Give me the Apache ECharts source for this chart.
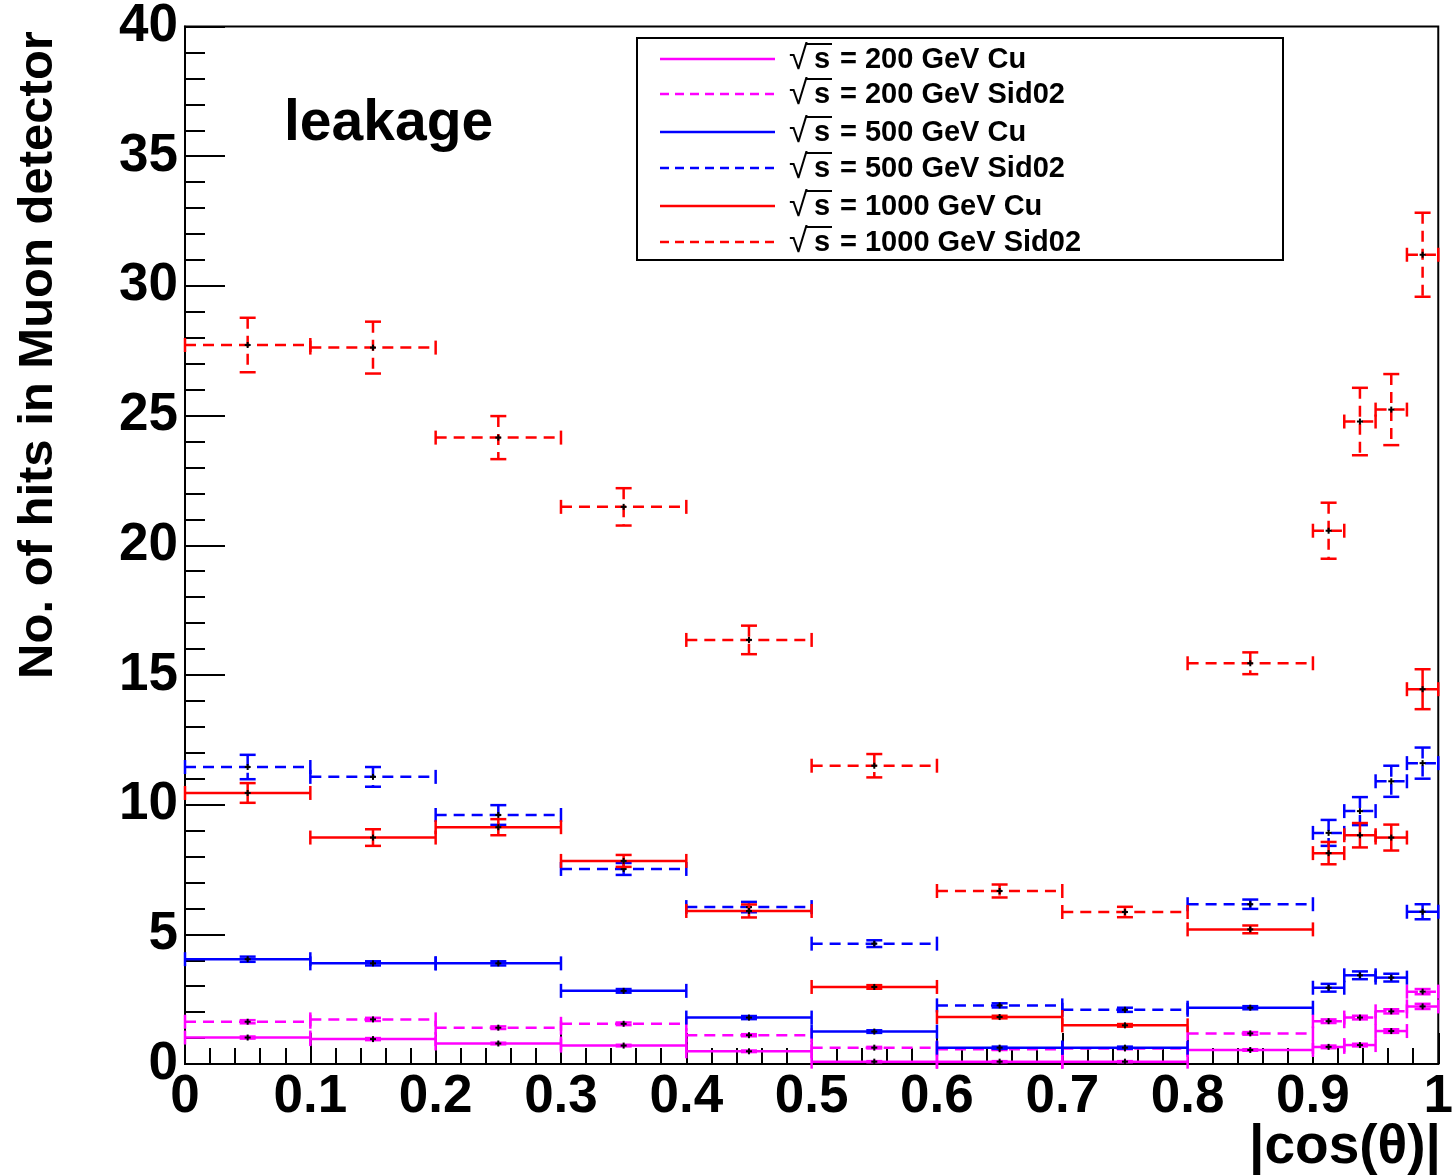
<!DOCTYPE html>
<html>
<head>
<meta charset="utf-8">
<script src="https://cdn.jsdelivr.net/npm/echarts@6/dist/echarts.min.js"></script>
<style>
  html, body { margin: 0; padding: 0; background: #fff; }
  #chart { width: 1456px; height: 1175px; }
</style>
</head>
<body>
<div id="chart"></div>
<script>
// bin edges in |cos(theta)|
const binLo = [0, 0.1, 0.2, 0.3, 0.4, 0.5, 0.6, 0.7, 0.8, 0.9, 0.925, 0.95, 0.975];
const binHi = [0.1, 0.2, 0.3, 0.4, 0.5, 0.6, 0.7, 0.8, 0.9, 0.925, 0.95, 0.975, 1.0];

// hits in muon detector, per bin, with errors
const cu200 = [1.02, 0.96, 0.79, 0.71, 0.49, 0.09, 0.09, 0.09, 0.54, 0.66, 0.73, 1.27, 2.22];
const cu200Err = [0.04, 0.04, 0.03, 0.03, 0.03, 0.02, 0.02, 0.02, 0.03, 0.05, 0.05, 0.07, 0.1];
const sid200 = [1.63, 1.72, 1.40, 1.55, 1.11, 0.63, 0.57, 0.60, 1.18, 1.65, 1.79, 2.03, 2.79];
const sid200Err = [0.06, 0.06, 0.05, 0.05, 0.04, 0.03, 0.03, 0.03, 0.05, 0.07, 0.07, 0.08, 0.1];
const cu500 = [4.04, 3.88, 3.88, 2.82, 1.79, 1.25, 0.63, 0.63, 2.17, 2.94, 3.42, 3.33, 5.87];
const cu500Err = [0.1, 0.08, 0.08, 0.07, 0.06, 0.05, 0.04, 0.04, 0.06, 0.15, 0.15, 0.15, 0.29];
const sid500 = [11.45, 11.07, 9.60, 7.52, 6.05, 4.64, 2.26, 2.09, 6.16, 8.91, 9.75, 10.90, 11.60];
const sid500Err = [0.47, 0.38, 0.38, 0.23, 0.2, 0.13, 0.08, 0.08, 0.18, 0.5, 0.54, 0.6, 0.6];
const cu1000 = [10.45, 8.73, 9.13, 7.83, 5.90, 2.97, 1.81, 1.49, 5.19, 8.13, 8.82, 8.73, 14.45];
const cu1000Err = [0.38, 0.32, 0.31, 0.23, 0.25, 0.07, 0.05, 0.05, 0.15, 0.43, 0.47, 0.5, 0.77];
const sid1000 = [27.72, 27.62, 24.15, 21.48, 16.35, 11.5, 6.67, 5.86, 15.45, 20.56, 24.77, 25.23, 31.2];
const sid1000Err = [1.05, 1.0, 0.83, 0.72, 0.55, 0.45, 0.25, 0.2, 0.42, 1.08, 1.3, 1.37, 1.62];

const legendNames = ['200 GeV Cu', '200 GeV Sid02', '500 GeV Cu', '500 GeV Sid02', '1000 GeV Cu', '1000 GeV Sid02'];
const seriesColors = ['#ff00ff', '#ff00ff', '#0000ff', '#0000ff', '#ff0000', '#ff0000'];
const seriesDashed = [false, true, false, true, false, true];
const seriesVals = [cu200, sid200, cu500, sid500, cu1000, sid1000];
const seriesErrs = [cu200Err, sid200Err, cu500Err, sid500Err, cu1000Err, sid1000Err];

const FONT = '"Liberation Sans", Arial, sans-serif';
const DASH = [11, 7];

// ROOT style histogram point: horizontal bin line + vertical error bar + caps
function makeRender(color, dashed) {
  return function (params, api) {
    const lo = api.value(0), hi = api.value(1), v = api.value(2), e = api.value(3);
    const mid = (lo + hi) / 2;
    const pL = api.coord([lo, v]);
    const pR = api.coord([hi, v]);
    const pC = api.coord([mid, v]);
    const pT = api.coord([mid, v + e]);
    const pB = api.coord([mid, v - e]);
    const lw = 2.5;
    const st = { stroke: color, lineWidth: lw, lineDash: dashed ? DASH : null };
    const solid = { stroke: color, lineWidth: lw };
    const cap = 7;
    const children = [
      { type: 'line', shape: { x1: pL[0], y1: pL[1], x2: pR[0], y2: pR[1] }, style: st },
      { type: 'line', shape: { x1: pT[0], y1: pT[1], x2: pB[0], y2: pB[1] }, style: st },
      { type: 'line', shape: { x1: pL[0], y1: pL[1] - cap, x2: pL[0], y2: pL[1] + cap }, style: solid },
      { type: 'line', shape: { x1: pR[0], y1: pR[1] - cap, x2: pR[0], y2: pR[1] + cap }, style: solid },
      { type: 'line', shape: { x1: pT[0] - 8, y1: pT[1], x2: pT[0] + 8, y2: pT[1] }, style: solid },
      { type: 'line', shape: { x1: pB[0] - 8, y1: pB[1], x2: pB[0] + 8, y2: pB[1] }, style: solid },
      { type: 'line', shape: { x1: pC[0] - 3, y1: pC[1], x2: pC[0] + 3, y2: pC[1] }, style: { stroke: '#000', lineWidth: 2 } },
      { type: 'line', shape: { x1: pC[0], y1: pC[1] - 3, x2: pC[0], y2: pC[1] + 3 }, style: { stroke: '#000', lineWidth: 2 } }
    ];
    return { type: 'group', children: children };
  };
}

const series = seriesVals.map((vals, k) => ({
  name: legendNames[k],
  type: 'custom',
  renderItem: makeRender(seriesColors[k], seriesDashed[k]),
  encode: { x: [0, 1], y: 2 },
  data: binLo.map((lo, i) => [lo, binHi[i], vals[i], seriesErrs[k][i]]),
  z: 2
}));

// legend drawn by hand (sqrt with overline)
const legendRowY = [59, 94, 132, 168, 206, 242];
const legendGraphics = [
  { type: 'rect', shape: { x: 637, y: 38, width: 646, height: 222 }, style: { fill: '#fff', stroke: '#000', lineWidth: 2 }, z: 10 }
];
legendRowY.forEach((y, k) => {
  legendGraphics.push(
    { type: 'line', shape: { x1: 660, y1: y, x2: 775, y2: y }, style: { stroke: seriesColors[k], lineWidth: 2.5, lineDash: seriesDashed[k] ? [9, 6] : null }, z: 11 },
    { type: 'text', x: 789, y: y + 1, style: { text: '√', font: '34px ' + FONT, fill: '#000', textVerticalAlign: 'middle' }, z: 11 },
    { type: 'line', shape: { x1: 806, y1: y - 15, x2: 832, y2: y - 15 }, style: { stroke: '#000', lineWidth: 2 }, z: 11 },
    { type: 'text', x: 814, y: y + 1, style: { text: 's', font: 'bold 29px ' + FONT, fill: '#000', textVerticalAlign: 'middle' }, z: 11 },
    { type: 'text', x: 840, y: y + 1, style: { text: '= ' + legendNames[k], font: 'bold 29px ' + FONT, fill: '#000', textVerticalAlign: 'middle' }, z: 11 }
  );
});

const option = {
  animation: false,
  backgroundColor: '#fff',
  grid: { left: 185, right: 13, top: 26, bottom: 111, show: true, borderColor: '#000', borderWidth: 2, backgroundColor: 'transparent' },
  xAxis: {
    type: 'value', min: 0, max: 1, interval: 0.1,
    axisLine: { show: true, lineStyle: { color: '#000', width: 2 } },
    axisTick: { show: true, inside: true, length: 31, lineStyle: { color: '#000', width: 2 } },
    minorTick: { show: true, splitNumber: 5, length: 16, lineStyle: { color: '#000', width: 2 } },
    splitLine: { show: false },
    axisLabel: { color: '#000', fontFamily: FONT, fontWeight: 'bold', fontSize: 53, margin: 7 }
  },
  yAxis: {
    type: 'value', min: 0, max: 40, interval: 5,
    axisLine: { show: true, lineStyle: { color: '#000', width: 2 } },
    axisTick: { show: true, inside: true, length: 40, lineStyle: { color: '#000', width: 2 } },
    minorTick: { show: true, splitNumber: 5, length: 20, lineStyle: { color: '#000', width: 2 } },
    splitLine: { show: false },
    axisLabel: { color: '#000', fontFamily: FONT, fontWeight: 'bold', fontSize: 53, margin: 7 }
  },
  graphic: [
    { type: 'text', x: 38, y: 355, rotation: Math.PI / 2, style: { text: 'No. of hits in Muon detector', font: 'bold 49px ' + FONT, fill: '#000', textAlign: 'center', textVerticalAlign: 'middle' } },
    { type: 'text', x: 1441, y: 1148, style: { text: '|cos(θ)|', font: 'bold 55px ' + FONT, fill: '#000', textAlign: 'right', textVerticalAlign: 'middle' } },
    { type: 'text', x: 284, y: 124, style: { text: 'leakage', font: 'bold 57px ' + FONT, fill: '#000', textVerticalAlign: 'middle' } }
  ].concat(legendGraphics),
  series: series
};

const myChart = echarts.init(document.getElementById('chart'));
myChart.setOption(option);
</script>
</body>
</html>
